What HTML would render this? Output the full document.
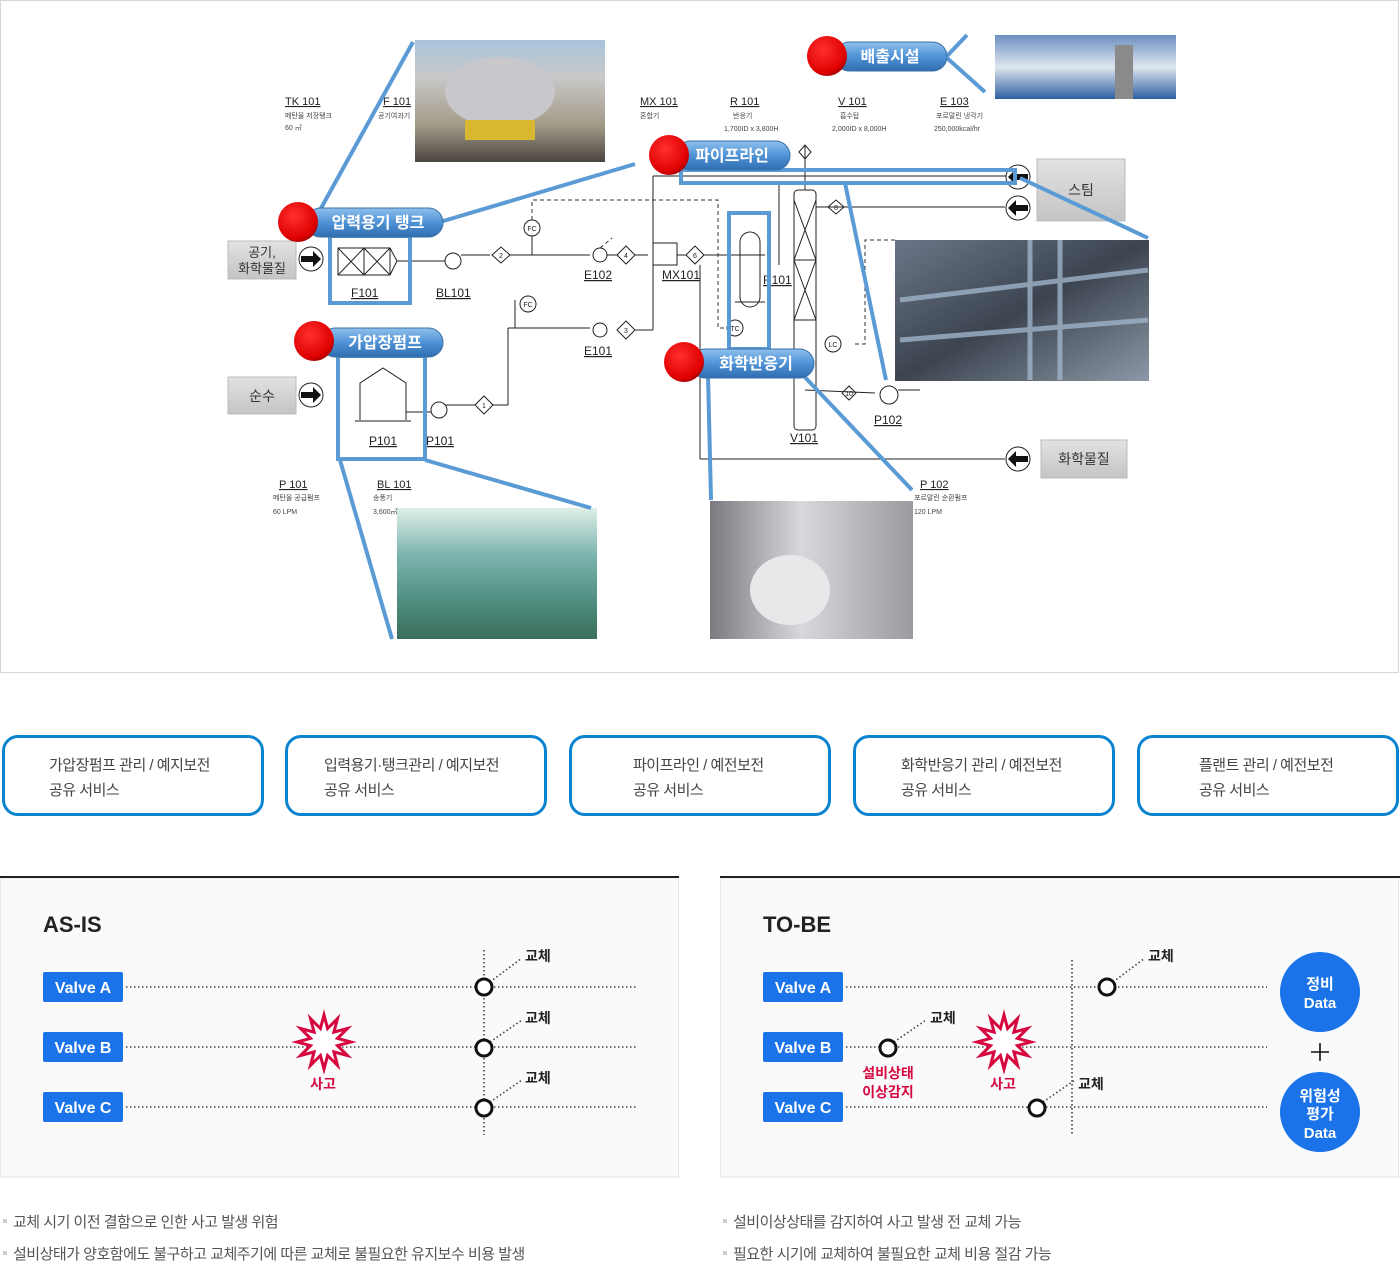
<!DOCTYPE html>
<html><head><meta charset="utf-8">
<style>
html,body{margin:0;padding:0;background:#fff;}
body{width:1400px;height:1265px;overflow:hidden;position:relative;font-family:"Liberation Sans","Noto Sans CJK KR",sans-serif;}
svg{position:absolute;left:0;top:0;}
.card{position:absolute;top:735px;width:262px;height:81px;border:3px solid #0a84d0;border-radius:16px;box-sizing:border-box;}
.card div{position:absolute;top:15px;font-size:15px;line-height:25px;color:#444;white-space:nowrap;letter-spacing:-0.5px;}
.bul{position:absolute;font-size:15px;color:#555;letter-spacing:-0.5px;white-space:nowrap;}
.bul:before{content:"";position:absolute;left:-10px;top:8px;width:4px;height:4px;background:#ccc;}
</style></head><body>

<svg width="1400" height="1265" viewBox="0 0 1400 1265" font-family="Liberation Sans, Noto Sans CJK KR, sans-serif">
<defs>
<linearGradient id="pill" x1="0" y1="0" x2="0" y2="1"><stop offset="0" stop-color="#8fc0ec"/><stop offset=".5" stop-color="#4f92d6"/><stop offset="1" stop-color="#2f6db0"/></linearGradient>
<radialGradient id="red" cx=".4" cy=".35" r=".7"><stop offset="0" stop-color="#ff3030"/><stop offset=".8" stop-color="#e00000"/><stop offset="1" stop-color="#900"/></radialGradient>
<linearGradient id="gbox" x1="0" y1="0" x2="0" y2="1"><stop offset="0" stop-color="#e2e2e2"/><stop offset="1" stop-color="#c4c4c4"/></linearGradient>
<linearGradient id="ph1" x1="0" y1="0" x2="0" y2="1"><stop offset="0" stop-color="#a9c4de"/><stop offset=".3" stop-color="#c9c9c9"/><stop offset=".7" stop-color="#a39a88"/><stop offset="1" stop-color="#4a4540"/></linearGradient>
<linearGradient id="ph2" x1="0" y1="0" x2="0" y2="1"><stop offset="0" stop-color="#6c8fc0"/><stop offset=".5" stop-color="#dfe6ef"/><stop offset="1" stop-color="#2f5fa0"/></linearGradient>
<linearGradient id="ph3" x1="0" y1="0" x2="1" y2="1"><stop offset="0" stop-color="#6a7688"/><stop offset=".5" stop-color="#3c4450"/><stop offset="1" stop-color="#8c98a6"/></linearGradient>
<linearGradient id="ph4" x1="0" y1="0" x2="0" y2="1"><stop offset="0" stop-color="#dfeee8"/><stop offset=".35" stop-color="#7fb6b0"/><stop offset=".7" stop-color="#4f8f80"/><stop offset="1" stop-color="#3b6d5c"/></linearGradient>
<linearGradient id="ph5" x1="0" y1="0" x2="1" y2="0"><stop offset="0" stop-color="#7a7a80"/><stop offset=".45" stop-color="#d8d8dc"/><stop offset="1" stop-color="#9a9aa0"/></linearGradient>
</defs>

<rect x="0.5" y="0.5" width="1398" height="672" fill="#fff" stroke="#d6d6d6"/>

<rect x="415" y="40" width="190" height="122" fill="url(#ph1)"/>
<ellipse cx="500" cy="92" rx="55" ry="35" fill="#c8c8cc"/>
<rect x="465" y="120" width="70" height="20" fill="#d8b830"/>
<rect x="995" y="35" width="181" height="64" fill="url(#ph2)"/>
<rect x="1115" y="45" width="18" height="54" fill="#8a8a8a"/>
<rect x="895" y="240" width="254" height="141" fill="url(#ph3)"/>
<g stroke="#9fb3c8" stroke-width="5" opacity=".8"><line x1="900" y1="300" x2="1148" y2="270"/><line x1="900" y1="340" x2="1148" y2="320"/><line x1="1030" y1="240" x2="1030" y2="380"/><line x1="1060" y1="240" x2="1060" y2="380"/></g>
<rect x="397" y="508" width="200" height="131" fill="url(#ph4)"/>
<rect x="710" y="501" width="203" height="138" fill="url(#ph5)"/>
<ellipse cx="790" cy="590" rx="40" ry="35" fill="#e8e8ea"/>

<g stroke="#222" stroke-width="1" fill="none">
<rect x="338" y="248" width="52" height="27"/><line x1="364" y1="248" x2="364" y2="275"/>
<path d="M338 248 L364 275 M364 248 L338 275 M364 248 L390 275 M390 248 L364 275"/>
<path d="M390 248 L397 261 L390 275"/>
<line x1="397" y1="261" x2="445" y2="261"/>
<circle cx="453" cy="261" r="8"/>
<line x1="461" y1="255" x2="490" y2="255"/>
<path d="M492 255 L501 247 L510 255 L501 263 Z"/>
<line x1="510" y1="255" x2="590" y2="255"/>
<circle cx="532" cy="228" r="8"/><line x1="532" y1="236" x2="532" y2="255"/>
<circle cx="600" cy="255" r="7"/>
<line x1="607" y1="255" x2="617" y2="255"/>
<path d="M617 255 L626 246 L635 255 L626 264 Z"/>
<line x1="635" y1="255" x2="648" y2="255"/>
<rect x="653" y="243" width="24" height="22"/>
<line x1="677" y1="255" x2="686" y2="255"/>
<path d="M686 255 L695 246 L704 255 L695 264 Z"/>
<line x1="704" y1="255" x2="740" y2="255"/>
<line x1="653" y1="176" x2="653" y2="243"/>
<line x1="653" y1="176" x2="1010" y2="176"/>
<rect x="740" y="232" width="20" height="75" rx="10"/>
<line x1="735" y1="255" x2="765" y2="255"/><line x1="735" y1="302" x2="765" y2="302"/>
<rect x="794" y="190" width="22" height="240" rx="4"/>
<path d="M794 200 L816 260 M816 200 L794 260 M794 260 L816 320 M816 260 L794 320"/>
<line x1="794" y1="260" x2="816" y2="260"/>
<line x1="794" y1="320" x2="816" y2="320"/>
<line x1="805" y1="145" x2="805" y2="190"/>
<path d="M799 152 L805 145 L811 152 L805 159 Z"/>
<line x1="816" y1="207" x2="1005" y2="207"/>
<path d="M828 207 L836 200 L844 207 L836 214 Z"/>
<line x1="779" y1="183" x2="779" y2="265"/>
<line x1="700" y1="265" x2="700" y2="459"/>
<line x1="700" y1="459" x2="1005" y2="459"/>
<circle cx="833" cy="344" r="8"/>
<line x1="805" y1="390" x2="875" y2="393"/>
<path d="M842 393 L849 386 L856 393 L849 400 Z"/>
<circle cx="889" cy="395" r="9"/>
<line x1="898" y1="390" x2="920" y2="390"/>
<line x1="515" y1="328" x2="515" y2="300"/>
<circle cx="528" cy="304" r="8"/>
<line x1="508" y1="328" x2="590" y2="328"/>
<circle cx="600" cy="330" r="7"/>
<path d="M617 330 L626 321 L635 330 L626 339 Z"/>
<line x1="635" y1="330" x2="653" y2="330"/><line x1="653" y1="330" x2="653" y2="265"/>
<line x1="508" y1="328" x2="508" y2="405"/>
<line x1="492" y1="405" x2="508" y2="405"/>
<path d="M475 405 L484 396 L493 405 L484 414 Z"/>
<line x1="445" y1="405" x2="475" y2="405"/>
<circle cx="439" cy="410" r="8"/>
<path d="M360 420 L360 383 L383 368 L406 383 L406 420"/>
<line x1="355" y1="421" x2="411" y2="421"/>
<line x1="406" y1="412" x2="431" y2="412"/>
</g>
<g stroke="#333" stroke-width="1" fill="none" stroke-dasharray="4 3">
<path d="M532 220 L532 200 L718 200 L718 328 L730 328"/>
<path d="M855 344 L865 344 L865 240 L895 240"/>
<path d="M600 248 L612 238"/>
</g>
<circle cx="735" cy="328" r="8" fill="#fff" stroke="#222"/>
<g font-size="7" fill="#222" text-anchor="middle"><text x="501" y="258">2</text><text x="626" y="258">4</text><text x="695" y="258">6</text><text x="626" y="333">3</text><text x="484" y="408">1</text><text x="836" y="210">8</text><text x="849" y="396">10</text><text x="532" y="231">FC</text><text x="528" y="307">FC</text><text x="735" y="331">TC</text><text x="833" y="347">LC</text></g>

<g fill="#222" font-size="12" text-decoration="underline">
<text x="351" y="297">F101</text><text x="436" y="297">BL101</text><text x="584" y="279">E102</text><text x="662" y="279">MX101</text><text x="584" y="355">E101</text>
<text x="763" y="284">R101</text><text x="790" y="442">V101</text><text x="874" y="424">P102</text><text x="369" y="445">P101</text><text x="426" y="445">P101</text>
</g>
<g fill="#222" font-size="11" text-decoration="underline">
<text x="285" y="105">TK 101</text><text x="383" y="105">F 101</text><text x="640" y="105">MX 101</text><text x="730" y="105">R 101</text><text x="838" y="105">V 101</text><text x="940" y="105">E 103</text>
<text x="279" y="488">P 101</text><text x="377" y="488">BL 101</text><text x="920" y="488">P 102</text>
</g>
<g fill="#444" font-size="7">
<text x="285" y="118">메탄올 저장탱크</text><text x="285" y="130">60 ㎥</text><text x="378" y="118">공기여과기</text><text x="640" y="118">혼합기</text>
<text x="733" y="118">반응기</text><text x="724" y="131">1,700ID x 3,800H</text><text x="840" y="118">흡수탑</text><text x="832" y="131">2,000ID x 8,000H</text>
<text x="936" y="118">포르말린 냉각기</text><text x="934" y="131">250,000kcal/hr</text>
<text x="273" y="500">메탄올 공급펌프</text><text x="273" y="514">60 LPM</text><text x="373" y="500">송풍기</text><text x="373" y="514">3,600㎥</text>
<text x="914" y="500">포르말린 순환펌프</text><text x="914" y="514">120 LPM</text>
</g>

<rect x="228" y="241" width="68" height="38" fill="url(#gbox)" stroke="#bbb"/>
<text x="262" y="257" font-size="13" text-anchor="middle" fill="#333">공기,</text><text x="262" y="273" font-size="13" text-anchor="middle" fill="#333">화학물질</text>
<rect x="228" y="377" width="68" height="37" fill="url(#gbox)" stroke="#bbb"/>
<text x="262" y="401" font-size="14" text-anchor="middle" fill="#333">순수</text>
<rect x="1037" y="159" width="88" height="62" fill="url(#gbox)" stroke="#bbb"/>
<text x="1081" y="195" font-size="14" text-anchor="middle" fill="#333">스팀</text>
<rect x="1041" y="440" width="86" height="38" fill="url(#gbox)" stroke="#bbb"/>
<text x="1084" y="464" font-size="14" text-anchor="middle" fill="#333">화학물질</text>
<g stroke="#222" fill="#fff"><circle cx="311" cy="259" r="12"/><circle cx="311" cy="395" r="12"/><circle cx="1018" cy="177" r="12"/><circle cx="1018" cy="208" r="12"/><circle cx="1018" cy="459" r="12"/></g>
<g fill="#111">
<path d="M301 256 h12 v-5 l8 8 l-8 8 v-5 h-12z"/><path d="M301 392 h12 v-5 l8 8 l-8 8 v-5 h-12z"/>
<path d="M1028 174 h-12 v-5 l-8 8 l8 8 v-5 h12z"/><path d="M1028 205 h-12 v-5 l-8 8 l8 8 v-5 h12z"/><path d="M1028 456 h-12 v-5 l-8 8 l8 8 v-5 h12z"/>
</g>

<g stroke="#5b9bd5" stroke-width="4" fill="none">
<line x1="320" y1="210" x2="413" y2="42"/><line x1="440" y1="222" x2="635" y2="164"/>
<rect x="330" y="236" width="80" height="67"/>
<rect x="338" y="356" width="87" height="103"/>
<line x1="340" y1="460" x2="392" y2="639"/><line x1="425" y1="460" x2="591" y2="508"/>
<rect x="681" y="170" width="334" height="13"/>
<line x1="1020" y1="178" x2="1148" y2="238"/>
<line x1="845" y1="183" x2="886" y2="380"/>
<rect x="729" y="213" width="40" height="136"/>
<line x1="708" y1="375" x2="711" y2="500"/><line x1="800" y1="372" x2="912" y2="490"/>
<line x1="947" y1="56" x2="967" y2="35"/><line x1="947" y1="58" x2="985" y2="92"/>
</g>

<g font-size="16" font-weight="bold" fill="#fff" text-anchor="middle">
<rect x="306" y="208" width="137" height="29" rx="14.5" fill="url(#pill)" stroke="#3a70a8"/><circle cx="298" cy="222" r="20" fill="url(#red)"/><text x="378" y="228">압력용기 탱크</text>
<rect x="321" y="328" width="122" height="29" rx="14.5" fill="url(#pill)" stroke="#3a70a8"/><circle cx="314" cy="341" r="20" fill="url(#red)"/><text x="385" y="348">가압장펌프</text>
<rect x="676" y="141" width="114" height="29" rx="14.5" fill="url(#pill)" stroke="#3a70a8"/><circle cx="669" cy="155" r="20" fill="url(#red)"/><text x="732" y="161">파이프라인</text>
<rect x="691" y="349" width="123" height="29" rx="14.5" fill="url(#pill)" stroke="#3a70a8"/><circle cx="684" cy="362" r="20" fill="url(#red)"/><text x="756" y="369">화학반응기</text>
<rect x="835" y="42" width="112" height="29" rx="14.5" fill="url(#pill)" stroke="#3a70a8"/><circle cx="827" cy="56" r="20" fill="url(#red)"/><text x="890" y="62">배출시설</text>
</g>

<rect x="0.5" y="878" width="678" height="299" fill="#fafafa" stroke="#e6e6e6"/>
<line x1="0" y1="877" x2="679" y2="877" stroke="#222" stroke-width="2"/>
<text x="43" y="932" font-size="22" font-weight="bold" fill="#222">AS-IS</text>
<g stroke="#444" stroke-width="1.6" stroke-dasharray="1.5 2.5">
<line x1="126" y1="987" x2="637" y2="987"/><line x1="126" y1="1047" x2="637" y2="1047"/><line x1="126" y1="1107" x2="637" y2="1107"/>
<line x1="484" y1="950" x2="484" y2="1135"/>
<line x1="490" y1="982" x2="522" y2="958"/><line x1="490" y1="1042" x2="522" y2="1020"/><line x1="490" y1="1102" x2="522" y2="1080"/>
</g>
<g stroke="#111" stroke-width="3" fill="#fff"><circle cx="484" cy="987" r="8"/><circle cx="484" cy="1048" r="8"/><circle cx="484" cy="1108" r="8"/></g>
<g fill="#222" font-size="14" font-weight="bold"><text x="525" y="961">교체</text><text x="525" y="1023">교체</text><text x="525" y="1083">교체</text></g>
<polygon transform="translate(324,1042)" points="0,-27 3.6,-13.5 13.5,-23.4 9.9,-9.9 23.4,-13.5 13.5,-3.6 27,0 13.5,3.6 23.4,13.5 9.9,9.9 13.5,23.4 3.6,13.5 0,27 -3.6,13.5 -13.5,23.4 -9.9,9.9 -23.4,13.5 -13.5,3.6 -27,0 -13.5,-3.6 -23.4,-13.5 -9.9,-9.9 -13.5,-23.4 -3.6,-13.5" fill="#fff" stroke="#d6063e" stroke-width="3" stroke-linejoin="miter"/>
<text x="323" y="1089" font-size="14" font-weight="bold" fill="#d6063e" text-anchor="middle">사고</text>
<g fill="#1a73e8"><rect x="43" y="972" width="80" height="30" rx="2"/><rect x="43" y="1032" width="80" height="30" rx="2"/><rect x="43" y="1092" width="80" height="30" rx="2"/></g>
<g fill="#fff" font-size="16" font-weight="bold" text-anchor="middle"><text x="83" y="993">Valve A</text><text x="83" y="1053">Valve B</text><text x="83" y="1113">Valve C</text></g>

<rect x="720.5" y="878" width="678" height="299" fill="#fafafa" stroke="#e6e6e6"/>
<line x1="720" y1="877" x2="1400" y2="877" stroke="#222" stroke-width="2"/>
<text x="763" y="932" font-size="22" font-weight="bold" fill="#222">TO-BE</text>
<g stroke="#444" stroke-width="1.6" stroke-dasharray="1.5 2.5">
<line x1="846" y1="987" x2="1267" y2="987"/><line x1="846" y1="1047" x2="1267" y2="1047"/><line x1="846" y1="1107" x2="1267" y2="1107"/>
<line x1="1072" y1="960" x2="1072" y2="1135"/>
<line x1="1113" y1="982" x2="1145" y2="958"/><line x1="894" y1="1042" x2="926" y2="1020"/><line x1="1043" y1="1102" x2="1075" y2="1080"/>
</g>
<g stroke="#111" stroke-width="3" fill="#fff"><circle cx="1107" cy="987" r="8"/><circle cx="888" cy="1048" r="8"/><circle cx="1037" cy="1108" r="8"/></g>
<g fill="#222" font-size="14" font-weight="bold"><text x="1148" y="961">교체</text><text x="930" y="1023">교체</text><text x="1078" y="1089">교체</text></g>
<polygon transform="translate(1004,1042)" points="0,-27 3.6,-13.5 13.5,-23.4 9.9,-9.9 23.4,-13.5 13.5,-3.6 27,0 13.5,3.6 23.4,13.5 9.9,9.9 13.5,23.4 3.6,13.5 0,27 -3.6,13.5 -13.5,23.4 -9.9,9.9 -23.4,13.5 -13.5,3.6 -27,0 -13.5,-3.6 -23.4,-13.5 -9.9,-9.9 -13.5,-23.4 -3.6,-13.5" fill="#fff" stroke="#d6063e" stroke-width="3"/>
<g fill="#d6063e" font-size="14" font-weight="bold" text-anchor="middle"><text x="1003" y="1089">사고</text><text x="888" y="1078">설비상태</text><text x="888" y="1097">이상감지</text></g>
<g fill="#1a73e8"><rect x="763" y="972" width="80" height="30" rx="2"/><rect x="763" y="1032" width="80" height="30" rx="2"/><rect x="763" y="1092" width="80" height="30" rx="2"/></g>
<g fill="#fff" font-size="16" font-weight="bold" text-anchor="middle"><text x="803" y="993">Valve A</text><text x="803" y="1053">Valve B</text><text x="803" y="1113">Valve C</text></g>
<ellipse cx="1320" cy="992" rx="40" ry="40" fill="#1a73e8"/>
<ellipse cx="1320" cy="1112" rx="40" ry="40" fill="#1a73e8"/>
<g fill="#fff" font-size="15" font-weight="bold" text-anchor="middle"><text x="1320" y="989">정비</text><text x="1320" y="1008">Data</text><text x="1320" y="1101">위험성</text><text x="1320" y="1119">평가</text><text x="1320" y="1138">Data</text></g>
<path d="M1311 1052 h18 M1320 1043 v18" stroke="#111" stroke-width="1.6"/>
</svg>

<div class="card" style="left:2px"><div style="left:44px">가압장펌프 관리 / 예지보전<br>공유 서비스</div></div>
<div class="card" style="left:285px"><div style="left:36px">입력용기·탱크관리 / 예지보전<br>공유 서비스</div></div>
<div class="card" style="left:569px"><div style="left:61px">파이프라인 / 예전보전<br>공유 서비스</div></div>
<div class="card" style="left:853px"><div style="left:45px">화학반응기 관리 / 예전보전<br>공유 서비스</div></div>
<div class="card" style="left:1137px"><div style="left:59px">플랜트 관리 / 예전보전<br>공유 서비스</div></div>

<div class="bul" style="left:13px;top:1211px">교체 시기 이전 결함으로 인한 사고 발생 위험</div>
<div class="bul" style="left:13px;top:1243px">설비상태가 양호함에도 불구하고 교체주기에 따른 교체로 불필요한 유지보수 비용 발생</div>
<div class="bul" style="left:733px;top:1211px">설비이상상태를 감지하여 사고 발생 전 교체 가능</div>
<div class="bul" style="left:733px;top:1243px">필요한 시기에 교체하여 불필요한 교체 비용 절감 가능</div>
</body></html>
